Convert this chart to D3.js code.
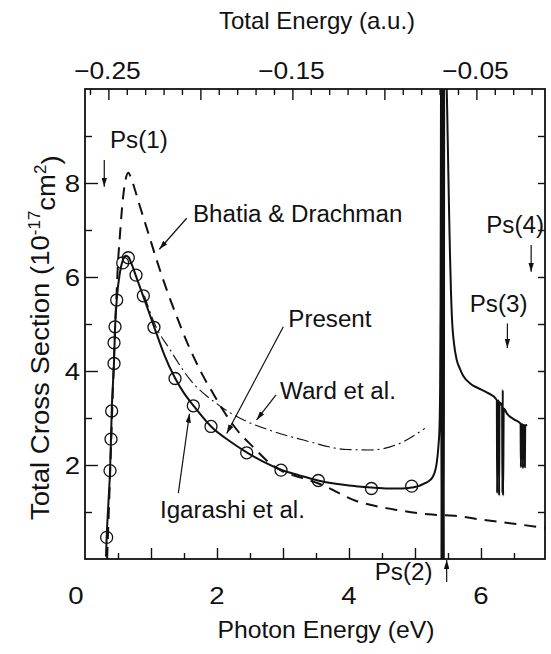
<!DOCTYPE html>
<html><head><meta charset="utf-8">
<script src="https://cdn.jsdelivr.net/npm/d3@7"></script>
<style>
body{margin:0;background:#fff}
text{font-family:"Liberation Sans",Arial,Helvetica,sans-serif;fill:#111}
</style>
</head><body><svg id="c" width="551" height="654"></svg>
<script>
// ---------------- data ----------------
const presentE = [0.318,0.328,0.355,0.38,0.395,0.405,0.44,0.455,0.48,0.53,0.58,0.62,0.66,0.70,0.77,0.88,1.05,1.2,1.36,1.5,1.64,1.91,2.2,2.45,2.7,2.97,3.25,3.53,3.8,4.1,4.34,4.6,4.8,4.95,5.05,5.13,5.2,5.27,5.31,5.33,5.355,5.37,5.38,5.388,5.393,
  5.395,5.401,5.407,5.413,5.419,5.425,5.431,5.437,5.443,
  5.47,5.495,5.515,5.53,5.545,5.565,5.59,5.63,5.68,5.73,5.85,5.95,6.08,6.2,6.235,
  6.24,6.245,6.25,6.27,6.275,6.28,6.32,6.325,6.33,6.335,6.345,6.4,6.5,6.6,6.605,6.61,6.63,6.635,6.64,6.66,6.665,6.67,6.70];
const presentS = [0.05,0.45,1.2,1.9,2.6,3.15,4.2,4.9,5.5,6.1,6.38,6.45,6.42,6.3,6.03,5.6,4.93,4.35,3.86,3.53,3.27,2.82,2.5,2.27,2.07,1.9,1.78,1.67,1.6,1.55,1.52,1.5,1.5,1.52,1.55,1.6,1.65,1.75,1.9,2.05,2.4,2.74,3.5,5.5,9.0,
  10.5,-0.2,10.5,-0.2,10.5,-0.2,10.5,-0.2,10.5,
  10.5,9.0,7.5,6.5,5.7,5.0,4.6,4.25,4.05,3.9,3.72,3.64,3.55,3.45,3.4,
  3.4,1.4,3.38,3.35,1.35,3.33,3.25,1.4,3.6,1.35,3.2,3.08,2.97,2.88,1.95,2.87,2.86,1.93,2.85,2.84,1.95,2.84,2.85];

const igarashiE = [0.328,0.379,0.394,0.404,0.44,0.44,0.455,0.48,0.571,0.656,0.773,0.884,1.045,1.364,1.641,1.909,2.45,2.97,3.535,4.34,4.95];
const igarashiS = [0.46,1.88,2.55,3.15,4.16,4.60,4.94,5.51,6.30,6.41,6.04,5.60,4.93,3.84,3.26,2.82,2.26,1.89,1.67,1.50,1.55];

const bhatiaE = [0.335,0.38,0.42,0.455,0.48,0.50,0.53,0.56,0.60,0.656,0.70,0.758,0.833,0.96,1.086,1.24,1.39,1.55,1.75,1.95,2.1,2.3,2.55,2.8,3.0,3.3,3.55,4.1,4.7,5.2,5.6,6.0,6.5,6.97];
const bhatiaS = [0.0,1.8,3.5,4.9,5.7,6.3,6.9,7.45,7.95,8.22,8.1,7.85,7.5,6.93,6.36,5.72,5.16,4.6,4.0,3.5,3.15,2.75,2.38,2.04,1.86,1.72,1.6,1.24,1.05,0.95,0.92,0.84,0.75,0.66];

const wardE = [0.9,1.05,1.29,1.59,2.0,2.3,2.8,3.31,3.97,4.32,4.72,5.15];
const wardS = [5.6,5.02,4.45,3.82,3.3,3.03,2.74,2.53,2.33,2.32,2.43,2.78];

const bottomTickLabels = [0,2,4,6];
const bottomMajorTicks = [1,2,3,4,5,6];
const bottomMinorTicks = [0.5,1.5,2.5,3.5,4.5,5.5,6.5];
const leftTickLabels = [2,4,6,8];
const leftMinorTicks = [1,3,5,7,9];
const rightTicks = [1,2,3,4,5,6,7,8,9];
const topTickLabels = [-0.25,-0.15,-0.05];
const topMajorTicks = [-0.25,-0.20,-0.15,-0.10,-0.05];
const topMinorTicks = [-0.26,-0.24,-0.23,-0.22,-0.21,-0.19,-0.18,-0.17,-0.16,-0.14,-0.13,-0.12,-0.11,-0.09,-0.08,-0.07,-0.06,-0.04,-0.03,-0.02];

// ---------------- layout ----------------
const X0=85, X1=545, Y0=559, Y1=89;
const svg = d3.select("#c");
const x = d3.scaleLinear().domain([0,6.97]).range([X0,X1]);
const y = d3.scaleLinear().domain([0,10]).range([Y0,Y1]);
const xt = d3.scaleLinear().domain([-0.2627,-0.0127]).range([X0,X1]);

const defs = svg.append("defs");
defs.append("clipPath").attr("id","clip").append("rect")
  .attr("x",X0).attr("y",Y1).attr("width",X1-X0).attr("height",Y0-Y1);
defs.append("marker").attr("id","ah").attr("viewBox","0 0 10 6")
  .attr("refX",10).attr("refY",3).attr("markerWidth",9).attr("markerHeight",5.5)
  .attr("markerUnits","userSpaceOnUse").attr("orient","auto")
  .append("path").attr("d","M0,0L10,3L0,6Z").attr("fill","#111");

function txt(px,py,s,o={}){
  const t = svg.append("text")
    .attr("transform",`translate(${px},${py})`+(o.rot?` rotate(${o.rot})`:"")+` scale(${o.sx||1},1)`)
    .attr("text-anchor",o.anchor||"start")
    .style("font-size",(o.size||23)+"px");
  if(o.dy) t.attr("dy",o.dy);
  t.text(s);
  return t;
}

// ---------------- axes ----------------
function axisG(axis, ty){
  const g = svg.append("g").attr("transform",`translate(0,${ty})`).call(axis);
  g.select(".domain").remove();
  g.selectAll("line").attr("stroke","#111").attr("stroke-width",1.4);
  g.selectAll("text").remove();
  return g;
}
function axisGx(axis, tx){
  const g = svg.append("g").attr("transform",`translate(${tx},0)`).call(axis);
  g.select(".domain").remove();
  g.selectAll("line").attr("stroke","#111").attr("stroke-width",1.4);
  g.selectAll("text").remove();
  return g;
}
axisG(d3.axisBottom(x).tickValues(bottomMajorTicks).tickSize(-11),Y0);
axisG(d3.axisBottom(x).tickValues(bottomMinorTicks).tickSize(-6),Y0);
axisG(d3.axisTop(xt).tickValues(topMajorTicks).tickSize(-11),Y1);
axisG(d3.axisTop(xt).tickValues(topMinorTicks).tickSize(-6),Y1);
axisGx(d3.axisLeft(y).tickValues(leftTickLabels).tickSize(-13),X0);
axisGx(d3.axisLeft(y).tickValues(leftMinorTicks).tickSize(-7),X0);
axisGx(d3.axisRight(y).tickValues(rightTicks).tickSize(-7),X1);

svg.append("rect").attr("x",X0).attr("y",Y1).attr("width",X1-X0).attr("height",Y0-Y1)
  .attr("fill","none").attr("stroke","#111").attr("stroke-width",1.8);

bottomTickLabels.forEach(v=>txt(x(v)+(v===0?-9:0),604,String(v),{anchor:"middle",size:24,sx:1.15}));
leftTickLabels.forEach(v=>txt(X0-5,y(v),String(v),{anchor:"end",size:24,sx:1.15,dy:"0.36em"}));
topTickLabels.forEach(v=>txt(xt(v)-1,79,d3.format(".2f")(v),{anchor:"middle",size:24,sx:1.1}));

txt(326,638,"Photon Energy (eV)",{anchor:"middle",size:24,sx:1.03});
txt(317,29,"Total Energy (a.u.)",{anchor:"middle",size:24,sx:1.0});

// y label
{
  const t = svg.append("text").attr("transform","translate(49,520) rotate(-90) scale(1.06,1)")
    .style("font-size","26px");
  t.append("tspan").text("Total Cross Section (10");
  t.append("tspan").attr("dy","-0.55em").style("font-size","16px").text("-17");
  t.append("tspan").attr("dy","0.55em").text("cm");
  t.append("tspan").attr("dy","-0.55em").style("font-size","16px").text("2");
  t.append("tspan").attr("dy","0.55em").text(")");
}

// ---------------- curves ----------------
const plot = svg.append("g").attr("clip-path","url(#clip)");
const line = d3.line().x(d=>x(d[0])).y(d=>y(d[1])).curve(d3.curveMonotoneX);
const zip = (a,b)=>a.map((v,i)=>[v,b[i]]);

plot.append("path").datum(zip(bhatiaE,bhatiaS)).attr("d",line)
  .attr("fill","none").attr("stroke","#111").attr("stroke-width",2).attr("stroke-dasharray","12,8");
plot.append("path").datum(zip(wardE,wardS)).attr("d",line)
  .attr("fill","none").attr("stroke","#111").attr("stroke-width",1.1).attr("stroke-dasharray","12,4,2,4");
plot.append("path").datum(zip(presentE,presentS)).attr("d",line)
  .attr("fill","none").attr("stroke","#111").attr("stroke-width",2).attr("stroke-linejoin","round");
plot.selectAll("circle.ig").data(zip(igarashiE,igarashiS)).join("circle").attr("class","ig")
  .attr("cx",d=>x(d[0])).attr("cy",d=>y(d[1])).attr("r",6)
  .attr("fill","none").attr("stroke","#111").attr("stroke-width",1.3);

// ---------------- annotations ----------------
function arrow(e1,s1,e2,s2){
  svg.append("line").attr("x1",x(e1)).attr("y1",y(s1)).attr("x2",x(e2)).attr("y2",y(s2))
    .attr("stroke","#111").attr("stroke-width",1.2).attr("marker-end","url(#ah)");
}
txt(x(0.379),y(8.74),"Ps(1)",{sx:1.05});
arrow(0.292,8.49,0.292,7.92);
txt(x(1.636),y(7.18),"Bhatia & Drachman",{sx:1.05});
arrow(1.541,7.25,1.126,6.59);
txt(x(3.08),y(4.94),"Present",{sx:1.05});
arrow(3.005,4.94,2.147,2.67);
txt(x(2.955),y(3.40),"Ward et al.",{sx:1.05});
arrow(2.894,3.49,2.60,2.96);
txt(x(1.136),y(0.866),"Igarashi et al.",{sx:1.05});
arrow(1.414,1.40,1.583,3.09);
txt(x(4.39),y(-0.447),"Ps(2)",{sx:1.05});
arrow(5.48,-0.49,5.48,-0.02);
txt(x(5.83),y(5.26),"Ps(3)",{sx:1.05});
arrow(6.40,5.01,6.40,4.49);
txt(x(6.08),y(6.94),"Ps(4)",{sx:1.05});
arrow(6.76,6.68,6.76,6.11);
</script>
</body></html>
